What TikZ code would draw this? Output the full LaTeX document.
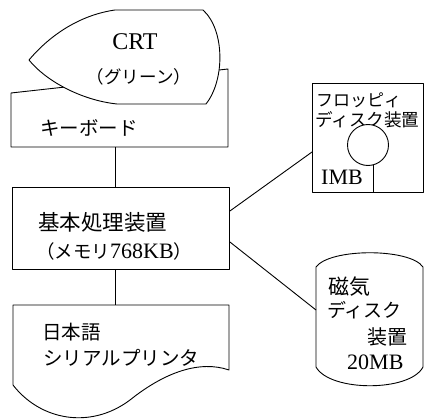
\documentclass[tikz,border=0pt]{standalone}
\usepackage{fontspec}
\setmainfont{Liberation Serif}
\newfontfamily\jp{Noto Sans CJK JP}
\tikzset{
  ln/.style={line width=0.9pt, line join=round},
  lbl/.style={inner sep=0pt, anchor=west},
}
\newcommand{\jf}[1]{\fontsize{#1}{#1}\jp}
\newcommand{\lf}[1]{\fontsize{#1}{#1}\rmfamily}
\begin{document}
\begin{tikzpicture}[x=1pt,y=-1pt]
\useasboundingbox (0,0) rectangle (429,420);
% keyboard (manual input)
\draw[ln] (11,93) -- (228,69) -- (228,147) -- (11,147) -- cycle;
\coordinate (kb) at (115,147);
% CRT display
\draw[ln, fill=white] (115,10) -- (203,10) .. controls (225,30) and (225,80) .. (206,104)
  -- (117,104) .. controls (80,100) and (45,80) .. (29,60)
  .. controls (50,35) and (80,15) .. (115,10) -- cycle;
\node (crt) at (135,42) [inner sep=0pt] {\lf{24}CRT};
\node (crt2) at (139,77) [inner sep=0pt] {\jf{17.5}（グリーン）};
\node (kbt) at (40,128) [lbl] {\jf{19.5}キーボード};
% main box
\node (main) [ln, draw, minimum width=217pt, minimum height=82pt, anchor=north west, inner sep=0pt] at (12,187) {};
\node (m1) at (38,222) [lbl] {\jf{21.5}基本処理装置};
\node (m2) at (36,251) [lbl] {\jf{18.5}（メモリ\lf{22}768KB\jf{18.5}）};
% printer (document)
\draw[ln] (13,305) -- (229,305) -- (229,370)
  .. controls (200,360) and (165,372) .. (130,400)
  .. controls (90,430) and (40,420) .. (13,385) -- cycle;
\coordinate (pr) at (115,305);
\node (p1) at (42,332) [lbl] {\jf{19.5}日本語};
\node (p2) at (43,358) [lbl] {\jf{19.5}シリアルプリンタ};
% floppy
\node (fd) [ln, draw, minimum width=111pt, minimum height=109pt, anchor=north west, inner sep=0pt] at (312,83) {};
\node (f1) at (316,100) [lbl] {\jf{17}フロッピィ};
\node (f2) at (315,120) [lbl] {\jf{17.6}ディスク装置};
\node (circ) [ln, draw, fill=white, circle, minimum size=41pt, inner sep=0pt] at (368,145) {};
\coordinate (cb) at (373,164.5);
\coordinate (fb) at (373,192);
\draw[ln] (cb) -- (fb);
\node (f3) at (321,177) [lbl] {\lf{22}IMB};
% magnetic disk
\draw[ln] (316,267) .. controls (330,248) and (410,248) .. (423,267)
  -- (423,367) .. controls (410,392) and (330,392) .. (316,367) -- cycle;
\coordinate (dk) at (316,310);
\node (d1) at (328,287) [lbl] {\jf{21}磁気};
\node (d2) at (327,310) [lbl] {\jf{19}ディスク};
\node (d3) at (367,337) [lbl] {\jf{20}装置};
\node (d4) at (347,362) [lbl] {\lf{22}20MB};
% connectors
\coordinate (fdl) at (312,152);
\draw[ln] (kb) -- (kb |- main.north);
\draw[ln] (pr |- main.south) -- (pr);
\draw[ln] (main.east |- 0,211) -- (fdl);
\draw[ln] (main.east |- 0,242) -- (dk);
\end{tikzpicture}
\end{document}
